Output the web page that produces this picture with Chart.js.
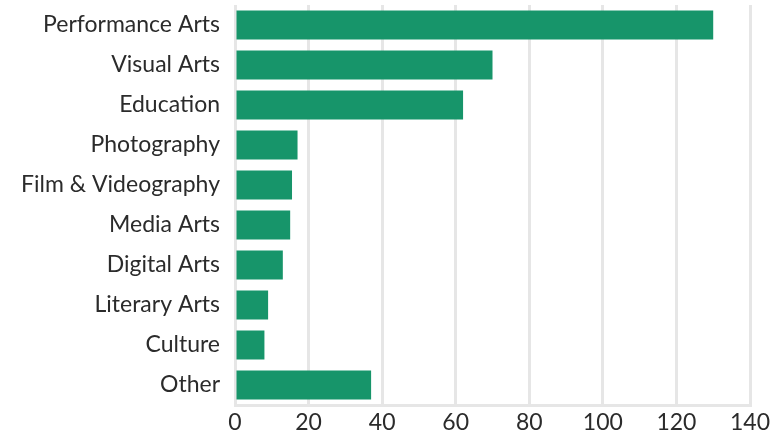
<!DOCTYPE html>
<html>
<head>
<meta charset="utf-8">
<script src="https://cdn.jsdelivr.net/npm/chart.js@4/dist/chart.umd.min.js"></script>
<style>
  html, body { margin: 0; padding: 0; background: #fff; }
  #wrap { width: 777px; height: 436px; }
</style>
</head>
<body>
<div id="wrap"><canvas id="chart"></canvas></div>
<script>
// categories and values
var categories = ['Performance Arts', 'Visual Arts', 'Education', 'Photography', 'Film & Videography',
  'Media Arts', 'Digital Arts', 'Literary Arts', 'Culture', 'Other'];
var counts = [130, 70, 62, 17, 15.5, 15, 13, 9, 8, 37];
var xTicks = [0, 20, 40, 60, 80, 100, 120, 140];

var textColor = '#2b2b2b';
var gridColor = '#e6e6e6';
var font = { family: 'Lato', size: 23 };

var ctx = document.getElementById('chart').getContext('2d');
var chart = new Chart(ctx, {
  type: 'bar',
  data: {
    labels: categories,
    datasets: [{
      data: counts,
      backgroundColor: '#17956a',
      barPercentage: 0.725,
      categoryPercentage: 1.0
    }]
  },
  options: {
    indexAxis: 'y',
    responsive: true,
    maintainAspectRatio: false,
    animation: false,
    layout: { padding: { top: 5, right: 27, left: 0, bottom: 0 } },
    plugins: { legend: { display: false }, tooltip: { enabled: false } },
    scales: {
      x: {
        min: 0,
        max: 140,
        afterBuildTicks: function (scale) {
          scale.ticks = xTicks.map(function (v) { return { value: v }; });
        },
        afterFit: function (scale) {
          scale.height = 31;
          scale.paddingLeft = 0;
          scale.paddingRight = 0;
        },
        grid: { color: gridColor, lineWidth: 3, drawTicks: false },
        border: { display: true, color: gridColor, width: 3 },
        ticks: { color: textColor, font: font, padding: 4, maxRotation: 0 }
      },
      y: {
        afterFit: function (scale) {
          scale.width = 235;
          scale.paddingTop = 0;
          scale.paddingBottom = 0;
        },
        grid: { display: false, drawTicks: false },
        border: { display: false },
        ticks: { color: textColor, font: font, padding: 15 }
      }
    }
  }
});
</script>
</body>
</html>
